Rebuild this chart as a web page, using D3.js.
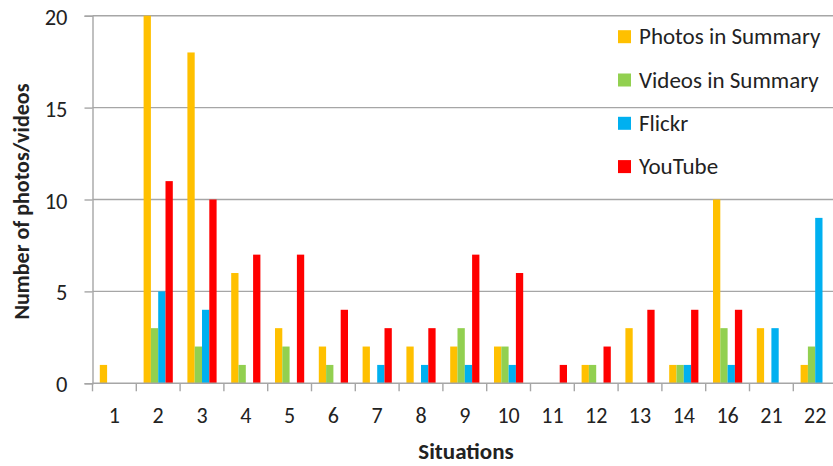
<!DOCTYPE html>
<html>
<head>
<meta charset="utf-8">
<script src="https://cdn.jsdelivr.net/npm/d3@7"></script>
<style>
  html, body { margin: 0; padding: 0; background: #fff; }
  svg text { font-family: Carlito, "Liberation Sans Narrow", "Liberation Sans", sans-serif; fill: #222; }
</style>
</head>
<body>
<svg id="chart" width="833" height="466"></svg>
<script>
// Situations on the x axis
const situations = ["1","2","3","4","5","6","7","8","9","10","11","12","13","14","16","21","22"];

// Counts per situation for each source
const photosInSummary = [1,20,18,6,3,2,2,2,2,2,0,1,3,1,10,3,1];
const videosInSummary = [0,3,2,1,2,1,0,0,3,2,0,1,0,1,3,0,2];
const flickr          = [0,5,4,0,0,0,1,1,1,1,0,0,0,1,1,3,9];
const youtube         = [0,11,10,7,7,4,3,3,7,6,1,2,4,4,4,0,0];

const seriesNames  = ["Photos in Summary","Videos in Summary","Flickr","YouTube"];
const seriesColors = ["#FFC000","#92D050","#00B0F0","#FF0000"];
const yTicks = [0,5,10,15,20];

const series = [photosInSummary, videosInSummary, flickr, youtube];

const svg = d3.select("#chart");
const plot = { left: 92.5, right: 837.1, top: 15.7, bottom: 383.3 };
const fontFamily = 'Carlito, "Liberation Sans Narrow", "Liberation Sans", sans-serif';

const x = d3.scaleBand()
  .domain(situations)
  .range([plot.left, plot.right])
  .paddingInner(1/3)
  .paddingOuter(1/6);

const xs = d3.scaleBand()
  .domain(seriesNames)
  .range([0, x.bandwidth()]);

const y = d3.scaleLinear().domain([0, 20]).range([plot.bottom, plot.top]);

const gridColor = "#a6a6a6";

// horizontal gridlines
svg.append("g").selectAll("line")
  .data(yTicks.filter(t => t > 0))
  .join("line")
  .attr("x1", plot.left).attr("x2", plot.right)
  .attr("y1", d => y(d)).attr("y2", d => y(d))
  .attr("stroke", gridColor).attr("stroke-width", 1.4);

// y axis
const yAxis = svg.append("g")
  .attr("transform", `translate(${plot.left},0)`)
  .call(d3.axisLeft(y).tickValues(yTicks).tickSize(8).tickPadding(17));
yAxis.select(".domain").attr("stroke", gridColor).attr("stroke-width", 1.4);
yAxis.selectAll(".tick line").attr("stroke", gridColor).attr("stroke-width", 1.4);
yAxis.selectAll(".tick text").attr("font-size", 22.5).attr("fill", "#222")
  .attr("font-family", fontFamily).attr("dy", "0.38em");

// bars
const rows = situations.map((s, i) => ({ s, vals: series.map((arr, k) => ({ name: seriesNames[k], v: arr[i], c: seriesColors[k] })) }));
svg.append("g").selectAll("g")
  .data(rows)
  .join("g")
  .attr("transform", d => `translate(${x(d.s)},0)`)
  .selectAll("rect")
  .data(d => d.vals.filter(e => e.v > 0))
  .join("rect")
  .attr("x", d => xs(d.name))
  .attr("width", xs.bandwidth())
  .attr("y", d => y(d.v))
  .attr("height", d => y(0) - y(d.v))
  .attr("fill", d => d.c);

// x axis baseline and category boundary ticks
const step = x.step();
svg.append("line")
  .attr("x1", plot.left).attr("x2", plot.right)
  .attr("y1", y(0)).attr("y2", y(0))
  .attr("stroke", gridColor).attr("stroke-width", 1.4);
svg.append("g").selectAll("line")
  .data(d3.range(situations.length + 1))
  .join("line")
  .attr("x1", i => plot.left + i * step).attr("x2", i => plot.left + i * step)
  .attr("y1", y(0)).attr("y2", y(0) + 8)
  .attr("stroke", gridColor).attr("stroke-width", 1.4);

// x labels
svg.append("g").selectAll("text")
  .data(situations)
  .join("text")
  .attr("x", d => x(d) + x.bandwidth() / 2)
  .attr("y", 423)
  .attr("text-anchor", "middle")
  .attr("font-size", 22)
  .text(d => d);

// axis titles
svg.append("text")
  .attr("x", 466).attr("y", 459)
  .attr("text-anchor", "middle")
  .attr("font-size", 23).attr("font-weight", "bold")
  .text("Situations");

svg.append("text")
  .attr("transform", "translate(29,201.5) rotate(-90)")
  .attr("text-anchor", "middle")
  .attr("font-size", 22).attr("font-weight", "bold")
  .text("Number of photos/videos");

// legend
const legend = svg.append("g").selectAll("g")
  .data(seriesNames)
  .join("g")
  .attr("transform", (d, i) => `translate(618,${36.7 + i * 43.3})`);
legend.append("rect")
  .attr("x", 0).attr("y", -6.5).attr("width", 13).attr("height", 13)
  .attr("fill", (d, i) => seriesColors[i]);
legend.append("text")
  .attr("x", 21).attr("y", 7.5)
  .attr("font-size", 23)
  .text(d => d);
</script>
</body>
</html>
